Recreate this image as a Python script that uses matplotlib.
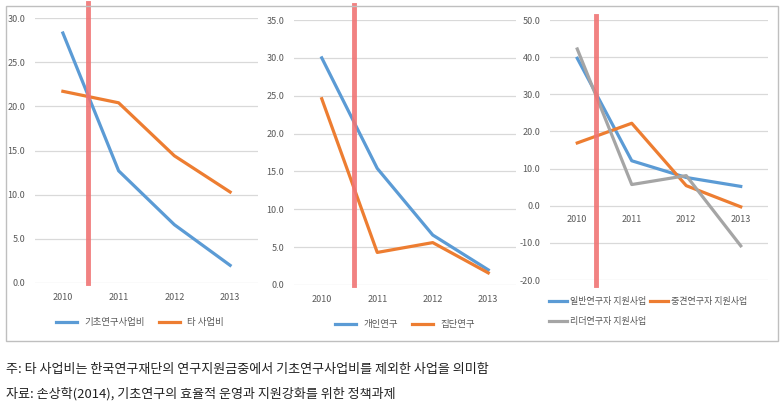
import matplotlib
matplotlib.use('Agg')
import matplotlib.pyplot as plt
from matplotlib.patches import Rectangle

plt.rcParams['font.family'] = ['Noto Sans CJK KR', 'DejaVu Sans']

years = ['2010', '2011', '2012', '2013']

# 패널 1
basic_cost = [28.3, 12.7, 6.6, 2.0]
other_cost = [21.7, 20.4, 14.4, 10.3]

# 패널 2
personal = [30.0, 15.4, 6.6, 2.0]
group = [24.6, 4.3, 5.6, 1.6]

# 패널 3
general = [39.7, 12.1, 7.6, 5.2]
midcareer = [16.9, 22.2, 5.4, -0.3]
leader = [42.2, 5.7, 8.1, -10.8]

blue = '#5B9BD5'
orange = '#ED7D31'
gray = '#A5A5A5'
red = '#F07474'
tick_color = '#595959'

W, H = 783, 412
fig = plt.figure(figsize=(W / 100, H / 100), dpi=100)


def px_axes(x0, x1, ytop, ybot):
    return fig.add_axes([x0 / W, 1 - ybot / H, (x1 - x0) / W, (ybot - ytop) / H])


def style(ax, ylo, yhi, step):
    ax.set_xlim(-0.5, 3.5)
    ax.set_ylim(ylo, yhi)
    ax.set_yticks([ylo + i * step for i in range(int(round((yhi - ylo) / step)) + 1)])
    ax.yaxis.set_major_formatter(matplotlib.ticker.FormatStrFormatter('%.1f'))
    ax.set_xticks(range(4))
    ax.set_xticklabels(years)
    for s in ax.spines.values():
        s.set_visible(False)
    ax.grid(True, axis='y', color='#D9D9D9', linewidth=0.9)
    ax.set_axisbelow(True)
    ax.tick_params(length=0, labelsize=6.5, labelcolor=tick_color, pad=7)
    ax.patch.set_alpha(0)


x = range(4)
lw = 2.3

# 기초연구사업비 vs 타 사업비
ax1 = px_axes(35, 258, 18, 283)
style(ax1, 0, 30, 5)
ax1.plot(x, basic_cost, color=blue, lw=lw, label='기초연구사업비')
ax1.plot(x, other_cost, color=orange, lw=lw, label='타 사업비')
ax1.plot([0.45, 0.45], [0, 31.7], color=red, lw=3.5, alpha=0.9, clip_on=False)
ax1.legend(loc='center', bbox_to_anchor=(0.47, -0.15), ncol=2, frameon=False,
           fontsize=6.8, handlelength=2.2, columnspacing=1.5, labelcolor=tick_color)

# 개인연구 vs 집단연구
ax2 = px_axes(294, 516, 20, 285)
style(ax2, 0, 35, 5)
ax2.plot(x, personal, color=blue, lw=lw, label='개인연구')
ax2.plot(x, group, color=orange, lw=lw, label='집단연구')
ax2.plot([0.58, 0.58], [0, 37.0], color=red, lw=3.5, alpha=0.9, clip_on=False)
ax2.legend(loc='center', bbox_to_anchor=(0.5, -0.15), ncol=2, frameon=False,
           fontsize=6.8, handlelength=2.2, columnspacing=1.5, labelcolor=tick_color)

# 연구자 유형별 지원사업
ax3 = px_axes(550, 768, 20, 280)
style(ax3, -20, 50, 10)
ax3.spines['bottom'].set_position(('data', 0))
l1, = ax3.plot(x, general, color=blue, lw=lw, label='일반연구자 지원사업')
l2, = ax3.plot(x, midcareer, color=orange, lw=lw, label='중견연구자 지원사업')
l3, = ax3.plot(x, leader, color=gray, lw=lw, label='리더연구자 지원사업')
ax3.plot([0.35, 0.35], [-21.3, 51.1], color=red, lw=3.5, alpha=0.9, clip_on=False)
ax3.legend([l1, l3, l2], ['일반연구자 지원사업', '리더연구자 지원사업', '중견연구자 지원사업'],
           loc='upper left', bbox_to_anchor=(-0.04, -0.035), ncol=2, frameon=False,
           fontsize=6.5, handlelength=2.0, handletextpad=0.3, columnspacing=0.4,
           labelspacing=1.2, labelcolor=tick_color)

fig.add_artist(Rectangle((6 / W, 1 - 341 / H), 772 / W, 335 / H, transform=fig.transFigure,
                         fill=False, edgecolor='#BFBFBF', linewidth=1))

fig.text(6 / W, 1 - 369 / H, '주: 타 사업비는 한국연구재단의 연구지원금중에서 기초연구사업비를 제외한 사업을 의미함',
         fontsize=9.4, va='center', ha='left', color='#222222')
fig.text(6 / W, 1 - 394 / H, '자료: 손상학(2014), 기초연구의 효율적 운영과 지원강화를 위한 정책과제',
         fontsize=9.4, va='center', ha='left', color='#222222')

fig.savefig('out.png', dpi=100)
